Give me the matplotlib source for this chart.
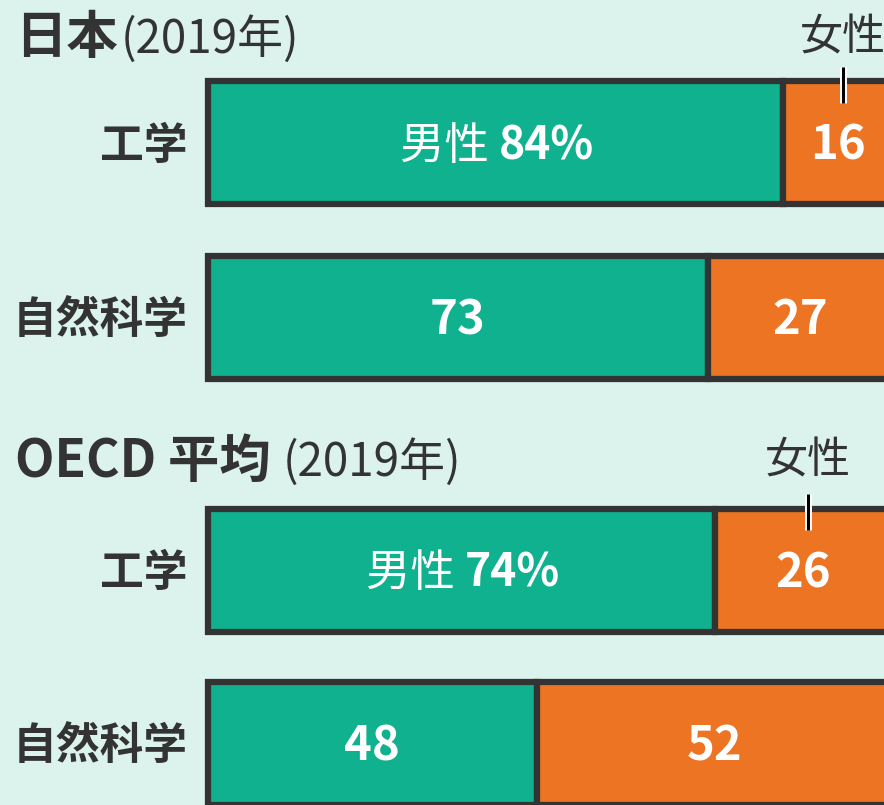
import matplotlib
matplotlib.use("Agg")
import matplotlib.pyplot as plt
import matplotlib.patheffects as pe

plt.rcParams['font.family'] = ['Noto Sans CJK JP', 'DejaVu Sans']

# ---- data ----
groups = ["日本", "OECD 平均"]
group_years = ["(2019年)", "(2019年)"]
categories = ["工学", "自然科学"]
male_japan = [84, 73]
female_japan = [16, 27]
male_oecd = [74, 48]
female_oecd = [26, 52]
male_label = "男性"
female_label = "女性"

BG = "#dbf3ec"
GREEN = "#0fb18f"
ORANGE = "#ec7423"
DARK = "#333333"

W, H = 884, 805
fig = plt.figure(figsize=(W / 100, H / 100), dpi=100)
fig.patch.set_facecolor(BG)

# axes: x in percent, 0 at px 208, 100 at px ~892 (cropped on right); y in pixels
x0_px, scale = 208, 6.845
ax = fig.add_axes([x0_px / W, 0, 100 * scale / W, 1])
ax.set_facecolor(BG)
ax.set_xlim(0, 100)
ax.set_ylim(H, 0)
ax.axis("off")

def px2x(p):
    return (p - x0_px) / scale

bar_h = 123
centers = [[143, 317], [570, 743]]
title_y = [38, 461]
year_gap = [0.5, 1.8]
males = [male_japan, male_oecd]
females = [female_japan, female_oecd]
dy = 3  # small baseline tweak for text inside bars

for g in range(2):
    # title
    t = ax.text(px2x(15), title_y[g], groups[g], fontsize=37, fontweight="bold",
                color=DARK, ha="left", va="center", clip_on=False)
    fig.canvas.draw()
    bb = t.get_window_extent()
    inv = ax.transData.inverted()
    xr = inv.transform((bb.x1, 0))[0]
    ax.text(xr + year_gap[g], title_y[g] + 2, group_years[g], fontsize=33,
            color=DARK, ha="left", va="center", clip_on=False)
    for i, cat in enumerate(categories):
        yc = centers[g][i]
        m, f = males[g][i], females[g][i]
        ax.barh(yc, m, height=bar_h, left=0, color=GREEN, edgecolor=DARK,
                linewidth=4.5, clip_on=False)
        ax.barh(yc, f, height=bar_h, left=m, color=ORANGE, edgecolor=DARK,
                linewidth=4.5, clip_on=False)
        ax.text(px2x(188), yc + dy, cat, fontsize=31.5, fontweight="bold",
                color=DARK, ha="right", va="center", clip_on=False)
        if i == 0:
            ax.text(m / 2 + 0.5, yc + dy, f"{male_label} ", fontsize=32,
                    color="white", ha="right", va="center")
            ax.text(m / 2 + 0.5, yc + dy, f"{m}%", fontsize=32,
                    fontweight="bold", color="white", ha="left", va="center")
            fx = m + f / 2 + 0.7
            ax.text(fx, title_y[g], female_label, fontsize=31, color=DARK,
                    ha="center", va="center", clip_on=False)
            ax.plot([fx, fx], [yc - 76, yc - 40], color="black", lw=2.2,
                    solid_capstyle="butt", clip_on=False,
                    path_effects=[pe.withStroke(linewidth=5, foreground="white")])
        else:
            ax.text(m / 2, yc + dy, f"{m}", fontsize=34, fontweight="bold",
                    color="white", ha="center", va="center")
        ax.text(m + f / 2, yc + dy, f"{f}", fontsize=34, fontweight="bold",
                color="white", ha="center", va="center")

fig.savefig("out.png", dpi=100, facecolor=BG)
